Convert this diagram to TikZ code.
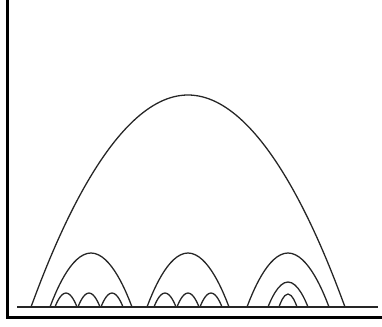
\documentclass[tikz,border=0pt]{standalone}
\usepackage{tikz}
\usetikzlibrary{calc}

\tikzset{
  archline/.style={line width=1.1pt, black!85},
  frameline/.style={line width=2.6pt, black},
}

\begin{document}
\begin{tikzpicture}[x=0.03cm, y=-0.03cm]
    \useasboundingbox (0,0) rectangle (382,326);

    % Frame
    \coordinate (ftop) at (7.5,0);
    \coordinate (fcorner) at (7.5,317.5);
    \coordinate (fright) at (382,317.5);
    \draw[frameline] (ftop) -- (fcorner) -- (fright);

    % Baseline
    \coordinate (bl) at (17,307);
    \coordinate (br) at (378,307);
    \draw[archline] (bl) -- (br);

    % Big arch
    \coordinate (bigl) at (31,307);
    \coordinate (bigtop) at (188,95);
    \coordinate (bigr) at (345,307);
    \draw[archline] (bigl) parabola bend (bigtop) (bigr);

    % Medium arches
    \foreach \c in {91,188,288}{
        \draw[archline] (\c-41,307) parabola bend (\c,253) (\c+41,307);
    }

    % Small arches
    \foreach \c in {89,188}{
        \foreach \d in {-23,0,23}{
            \draw[archline] (\c+\d-11,307) parabola bend (\c+\d,293) (\c+\d+11,307);
        }
    }

    % Nested arches
    \draw[archline] (268,307) parabola bend (288,282) (308,307);
    \draw[archline] (279,307) parabola bend (288,294) (297,307);
\end{tikzpicture}
\end{document}
